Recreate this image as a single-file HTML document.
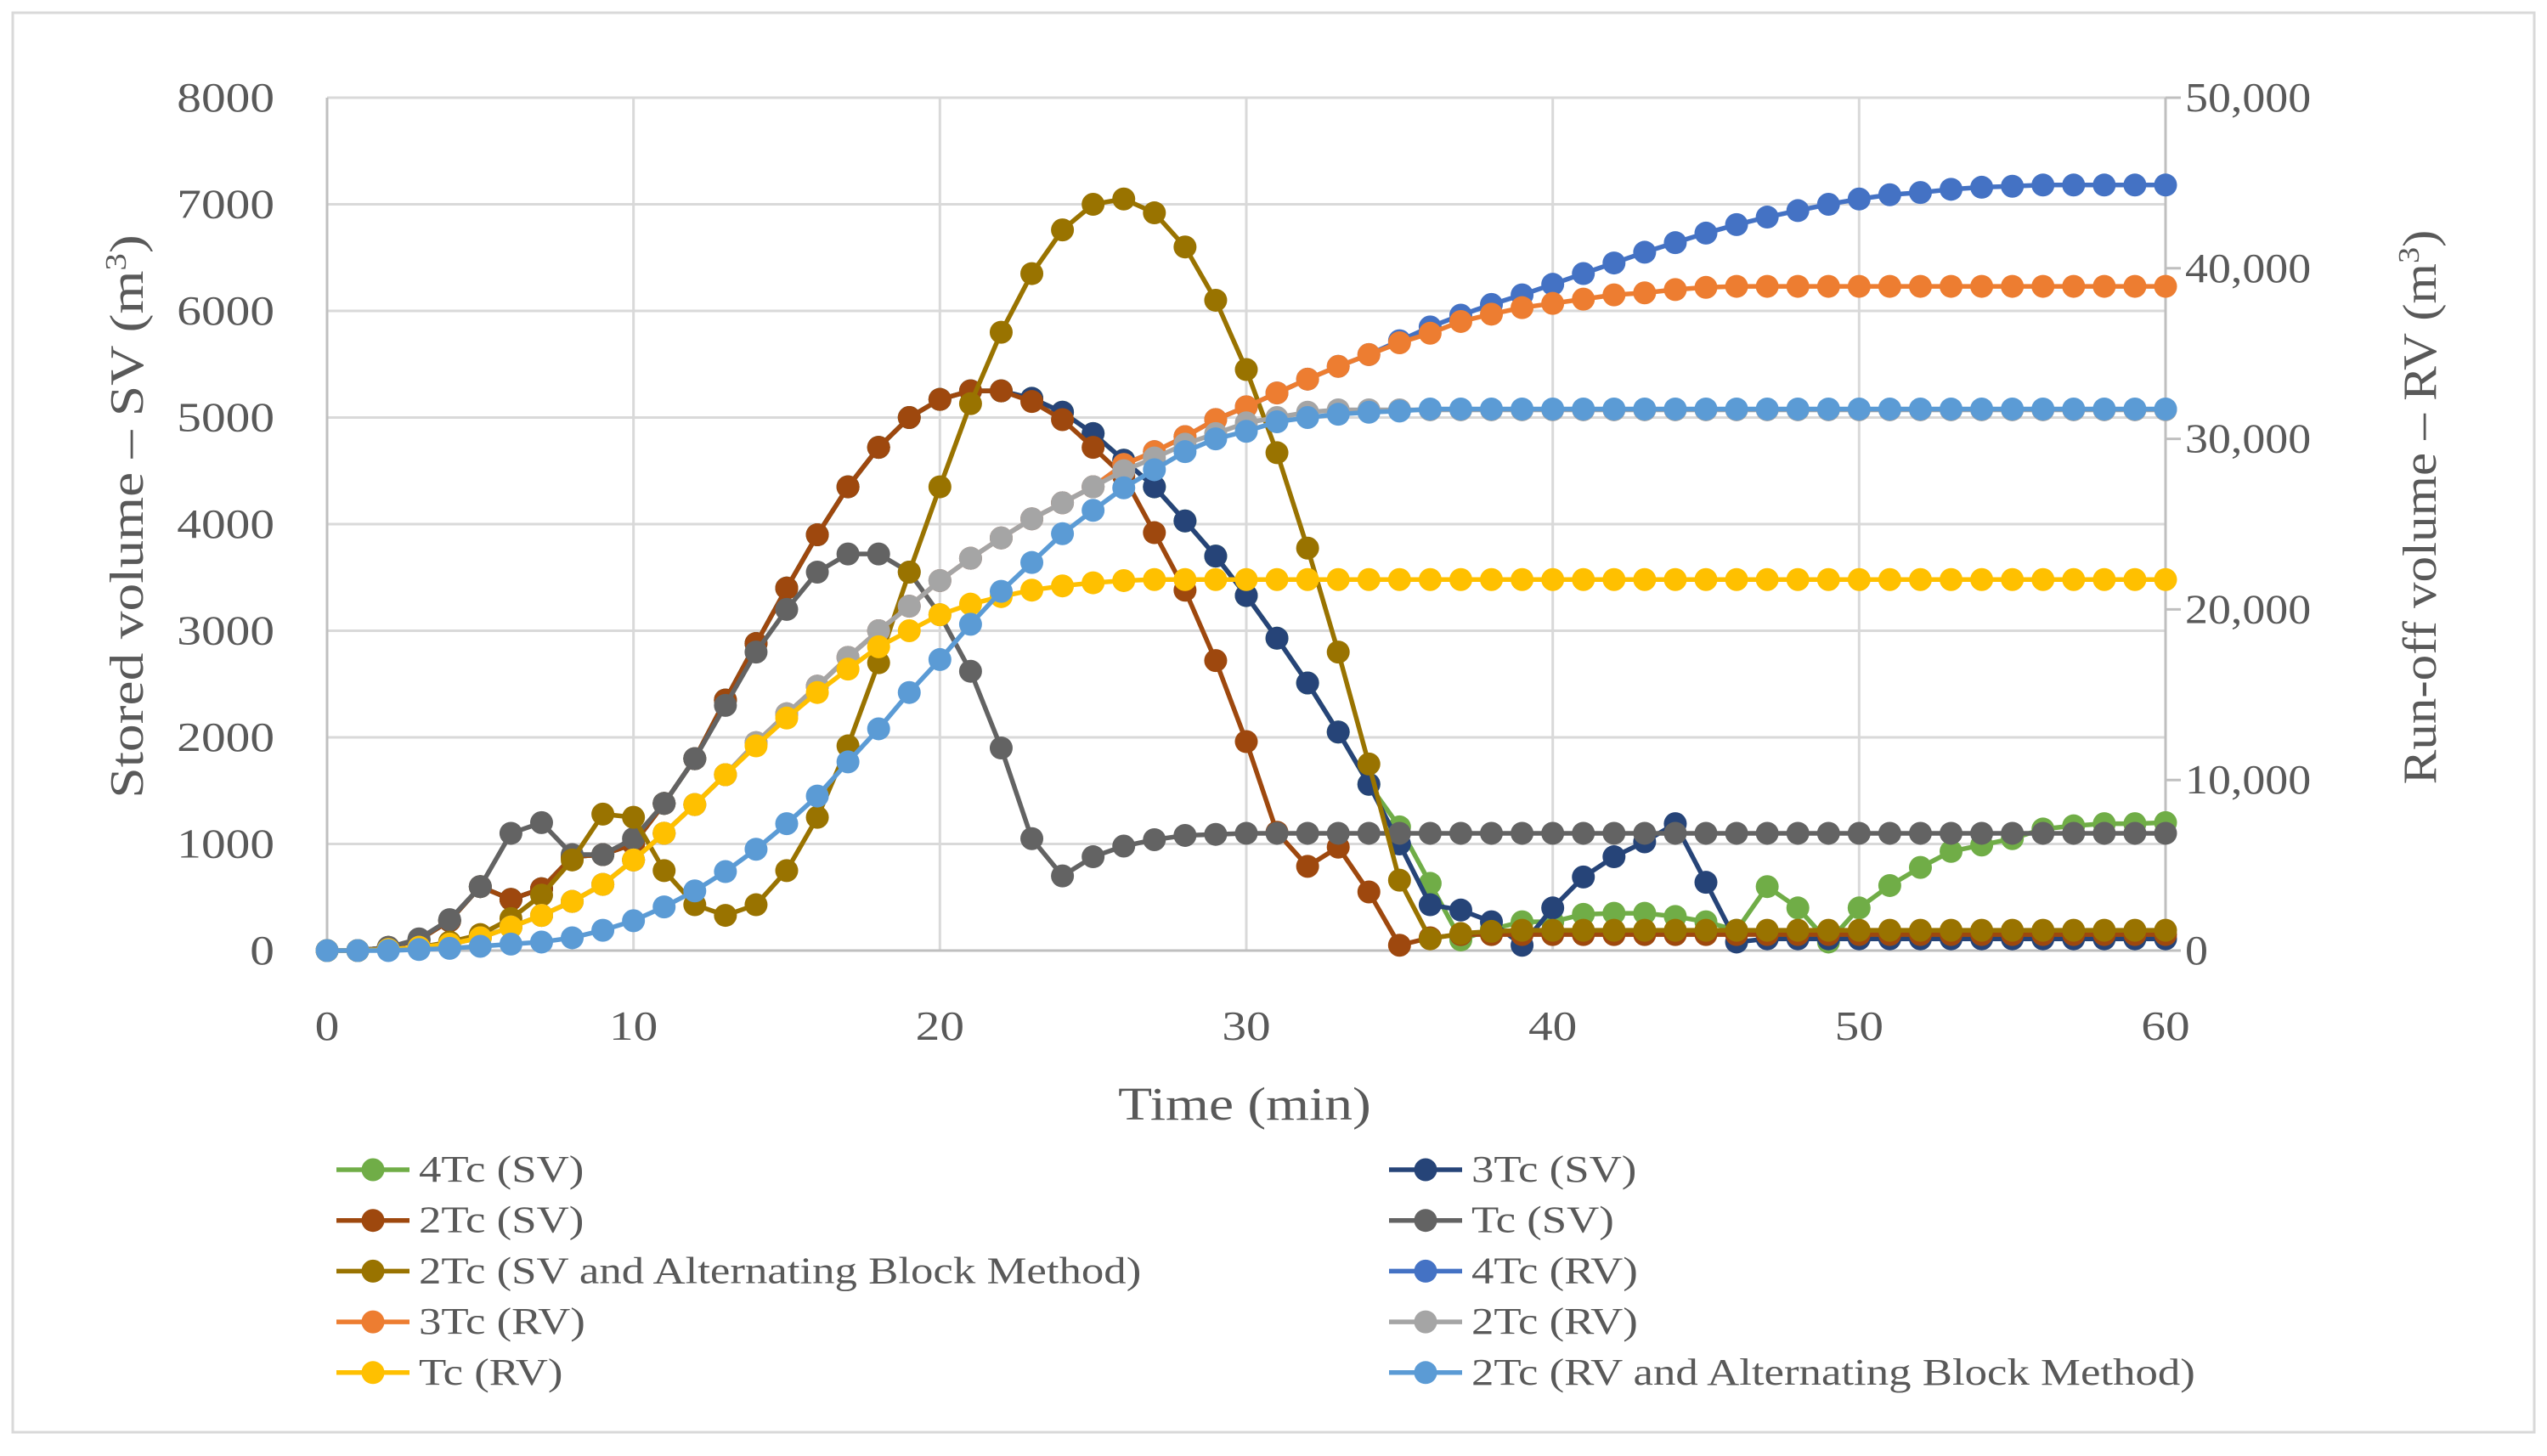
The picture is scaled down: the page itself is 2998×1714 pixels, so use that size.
<!DOCTYPE html>
<html><head><meta charset="utf-8"><style>
html,body{margin:0;padding:0;background:#fff}
svg{display:block}
text{font-family:"Liberation Serif",serif;fill:#595959}
</style></head><body>
<svg id="chart" width="2998" height="1714" viewBox="0 0 2998 1714">
<rect x="15" y="15" width="2968" height="1671" fill="#fff" stroke="#d9d9d9" stroke-width="3"/>
<g id="grid"></g><g id="axes"></g><g id="series"></g><g id="legend"></g>
</svg>
<script>
const minutes = [0,1,2,3,4,5,6,7,8,9,10,11,12,13,14,15,16,17,18,19,20,21,22,23,24,25,26,27,28,29,30,31,32,33,34,35,36,37,38,39,40,41,42,43,44,45,46,47,48,49,50,51,52,53,54,55,56,57,58,59,60];
const svTicks = [0,1000,2000,3000,4000,5000,6000,7000,8000];
const rvTicks = [0,10000,20000,30000,40000,50000];
const xTicks = [0,10,20,30,40,50,60];
const sv4Tc = [0,0,30,100,280,600,480,580,880,900,1000,1380,1800,2350,2880,3400,3900,4350,4720,5000,5170,5250,5250,5180,5050,4850,4600,4350,4030,3700,3330,2930,2510,2050,1560,1160,630,100,200,270,270,340,350,350,320,270,190,600,400,80,400,610,780,930,990,1050,1140,1170,1190,1190,1200];
const sv3Tc = [0,0,30,100,280,600,480,580,880,900,1000,1380,1800,2350,2880,3400,3900,4350,4720,5000,5170,5250,5250,5180,5050,4850,4600,4350,4030,3700,3330,2930,2510,2050,1560,1000,430,380,270,50,400,690,880,1020,1190,640,80,110,110,110,110,110,110,110,110,110,110,110,110,110,110];
const sv2Tc = [0,0,30,100,280,600,480,580,880,900,1000,1380,1800,2350,2880,3400,3900,4350,4720,5000,5170,5250,5250,5150,4980,4720,4450,3920,3380,2720,1960,1110,790,970,550,50,120,150,150,150,150,150,150,150,150,150,150,150,150,150,150,150,150,150,150,150,150,150,150,150,150];
const svTc = [0,0,30,110,290,600,1100,1200,900,900,1050,1380,1800,2300,2800,3200,3550,3720,3720,3550,3150,2620,1900,1050,700,880,980,1040,1080,1090,1100,1100,1100,1100,1100,1100,1100,1100,1100,1100,1100,1100,1100,1100,1100,1100,1100,1100,1100,1100,1100,1100,1100,1100,1100,1100,1100,1100,1100,1100,1100];
const sv2TcABM = [0,0,10,30,80,150,300,520,850,1280,1250,750,430,330,430,750,1250,1920,2700,3550,4350,5130,5800,6350,6760,7000,7050,6920,6600,6100,5450,4670,3775,2800,1750,660,110,160,180,190,190,190,190,190,190,190,190,190,190,190,190,190,190,190,190,190,190,190,190,190,190];
const rv4Tc = [0,0,60,190,380,750,1380,2060,2880,3880,5310,6880,8560,10310,12190,13880,15500,17190,18750,20190,21690,23000,24190,25310,26250,27190,28500,29250,30130,31130,31880,32690,33500,34250,34940,35750,36560,37250,37880,38440,39060,39690,40310,40940,41500,42060,42560,43000,43380,43750,44060,44310,44440,44630,44750,44810,44880,44880,44880,44880,44880];
const rv3Tc = [0,0,60,190,380,750,1380,2060,2880,3880,5310,6880,8560,10310,12190,13880,15500,17190,18750,20190,21690,23000,24190,25310,26250,27190,28500,29250,30130,31130,31880,32690,33500,34250,34940,35630,36190,36880,37310,37690,37940,38190,38440,38560,38750,38880,38940,38940,38940,38940,38940,38940,38940,38940,38940,38940,38940,38940,38940,38940,38940];
const rv2Tc = [0,0,60,190,380,750,1380,2060,2880,3880,5310,6880,8560,10310,12190,13880,15500,17190,18750,20190,21690,23000,24190,25310,26250,27190,28130,28880,29690,30310,30940,31250,31560,31700,31700,31700,31700,31700,31700,31700,31700,31700,31700,31700,31700,31700,31700,31700,31700,31700,31700,31700,31700,31700,31700,31700,31700,31700,31700,31700,31700];
const rvTc = [0,0,60,190,380,750,1380,2060,2880,3880,5310,6880,8560,10310,12000,13630,15130,16500,17810,18750,19690,20310,20750,21130,21380,21560,21690,21750,21750,21750,21750,21750,21750,21750,21750,21750,21750,21750,21750,21750,21750,21750,21750,21750,21750,21750,21750,21750,21750,21750,21750,21750,21750,21750,21750,21750,21750,21750,21750,21750,21750];
const rv2TcABM = [0,0,0,60,130,250,380,500,750,1190,1750,2560,3500,4630,5940,7440,9060,11060,13000,15130,17060,19130,21060,22750,24440,25810,27130,28190,29250,30000,30440,31000,31250,31440,31560,31630,31750,31750,31750,31750,31750,31750,31750,31750,31750,31750,31750,31750,31750,31750,31750,31750,31750,31750,31750,31750,31750,31750,31750,31750,31750];

const NS='http://www.w3.org/2000/svg';
const X0=385,X1=2549,YB=1119,YT=115;
const xs=m=>X0+(m/60)*(X1-X0);
const ySV=v=>YB-(v/8000)*(YB-YT);
const yRV=v=>YB-(v/50000)*(YB-YT);
function mk(tag,attrs,parent){const e=document.createElementNS(NS,tag);for(const k in attrs)e.setAttribute(k,attrs[k]);parent.appendChild(e);return e;}
function widen(el,f){const L=el.getComputedTextLength();if(L>0){el.setAttribute('textLength',(L*f).toFixed(1));el.setAttribute('lengthAdjust','spacingAndGlyphs');}}
const grid=document.getElementById('grid'),axes=document.getElementById('axes'),ser=document.getElementById('series'),leg=document.getElementById('legend');

svTicks.forEach(t=>{
  if(t>0){const l=mk('line',{x1:X0,x2:X1,y1:ySV(t),y2:ySV(t),stroke:'#d9d9d9','stroke-width':3},grid);
  
  }
  const tx=mk('text',{x:323,y:ySV(t)+16,'text-anchor':'end','font-size':49},axes);tx.textContent=t;
  
  
  widen(tx,1.17);
});
xTicks.forEach(t=>{
  if(t>0&&t<60){const l=mk('line',{x1:xs(t),x2:xs(t),y1:YT,y2:YB,stroke:'#d9d9d9','stroke-width':3},grid);
  
  }
  const tx=mk('text',{x:xs(t),y:1224,'text-anchor':'middle','font-size':49},axes);tx.textContent=t;
  
  
  widen(tx,1.17);
});
rvTicks.forEach(t=>{
  const tk=mk('line',{x1:X1,x2:X1+18,y1:yRV(t),y2:yRV(t),stroke:'#bfbfbf','stroke-width':3},axes);
  
  
  const tx=mk('text',{x:2572,y:yRV(t)+16,'text-anchor':'start','font-size':49},axes);tx.textContent=t.toLocaleString('en-US');
  
  
  widen(tx,1.1);
});
let a=mk('line',{x1:X0,x2:X0,y1:YT,y2:YB,stroke:'#bfbfbf','stroke-width':3},axes);


a=mk('line',{x1:X1,x2:X1,y1:YT,y2:YB,stroke:'#bfbfbf','stroke-width':3},axes);


a=mk('line',{x1:X0,x2:X1,y1:YB,y2:YB,stroke:'#bfbfbf','stroke-width':3},axes);



let t=mk('text',{x:1465,y:1318,'text-anchor':'middle','font-size':55},axes);t.textContent='Time (min)';


widen(t,1.19);
t=mk('text',{x:0,y:0,'text-anchor':'middle','font-size':56,transform:'translate(168,608) rotate(-90)'},axes);
t.innerHTML='Stored volume – SV (m<tspan dy="-20" font-size="35">3</tspan><tspan dy="20">)</tspan>';


widen(t,1.17);
t=mk('text',{x:0,y:0,'text-anchor':'middle','font-size':56,transform:'translate(2867,597) rotate(-90)'},axes);
t.innerHTML='Run-off volume – RV (m<tspan dy="-20" font-size="35">3</tspan><tspan dy="20">)</tspan>';


widen(t,1.09);

const seriesList=[
 {name:'4Tc (SV)',data:sv4Tc,y:ySV,c:'#70AD47',id:'4tc-sv'},
 {name:'3Tc (SV)',data:sv3Tc,y:ySV,c:'#264478',id:'3tc-sv'},
 {name:'2Tc (SV)',data:sv2Tc,y:ySV,c:'#9E480E',id:'2tc-sv'},
 {name:'Tc (SV)',data:svTc,y:ySV,c:'#636363',id:'tc-sv'},
 {name:'2Tc (SV and Alternating Block Method)',data:sv2TcABM,y:ySV,c:'#997300',id:'2tc-sv-abm'},
 {name:'4Tc (RV)',data:rv4Tc,y:yRV,c:'#4472C4',id:'4tc-rv'},
 {name:'3Tc (RV)',data:rv3Tc,y:yRV,c:'#ED7D31',id:'3tc-rv'},
 {name:'2Tc (RV)',data:rv2Tc,y:yRV,c:'#A5A5A5',id:'2tc-rv'},
 {name:'Tc (RV)',data:rvTc,y:yRV,c:'#FFC000',id:'tc-rv'},
 {name:'2Tc (RV and Alternating Block Method)',data:rv2TcABM,y:yRV,c:'#5B9BD5',id:'2tc-rv-abm'}
];
seriesList.forEach((s,i)=>{
  const g=mk('g',{},ser);
  
  
  const pts=s.data.map((v,j)=>xs(minutes[j])+','+s.y(v)).join(' ');
  const pl=mk('polyline',{points:pts,fill:'none',stroke:s.c,'stroke-width':5.5,'stroke-linejoin':'round'},g);
  
  
  s.data.forEach((v,j)=>{
    const c=mk('circle',{cx:xs(minutes[j]),cy:s.y(v),r:13.5,fill:s.c},g);
    
    
  });
  const col=i%2,row=Math.floor(i/2);
  const lx=col?1635:396, ly=1377+row*59.7;
  const lg=mk('g',{},leg);
  
  
  mk('line',{x1:lx,x2:lx+86,y1:ly,y2:ly,stroke:s.c,'stroke-width':5.5},lg);
  mk('circle',{cx:lx+43,cy:ly,r:13.5,fill:s.c},lg);
  const lt=mk('text',{x:lx+97,y:ly+14,'font-size':44},lg);lt.textContent=s.name;
  
  
  widen(lt,1.2);
});
</script>
</body></html>
